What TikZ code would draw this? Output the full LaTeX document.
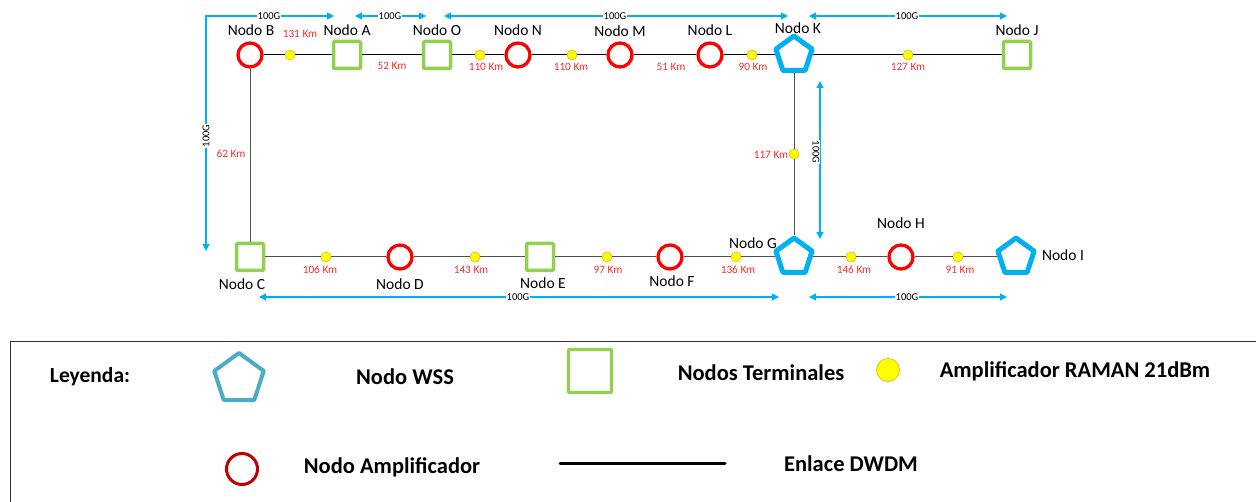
\documentclass[tikz,border=0pt]{standalone}
\usepackage{fontspec}
\setmainfont{Carlito}
\usetikzlibrary{shapes.geometric,arrows.meta}
\definecolor{cblue}{HTML}{00B0F0}
\definecolor{cgreen}{HTML}{92D050}
\definecolor{cred}{HTML}{FF0000}
\definecolor{ckm}{HTML}{FF2A2A}
\definecolor{cyel}{HTML}{FFFF00}
\definecolor{cyelb}{HTML}{EBB800}
\definecolor{lblue}{HTML}{4BACC6}
\definecolor{dred}{HTML}{C00000}
\definecolor{cline}{HTML}{505050}
\tikzset{
  wss/.style={regular polygon, regular polygon sides=5, draw=cblue, line width=5pt, minimum size=38pt, inner sep=0pt, fill=white, line join=round},
  term/.style={rectangle, draw=cgreen, line width=3.5pt, minimum size=27pt, inner sep=0pt, fill=white, rounded corners=1pt},
  ampnode/.style={circle, draw=cred, line width=3.3pt, minimum size=24pt, inner sep=0pt, fill=white},
  raman/.style={circle, draw=cyelb, line width=0.6pt, fill=cyel, minimum size=10pt, inner sep=0pt},
  nlabel/.style={font=\fontsize{15.5}{18}\selectfont, inner sep=0pt},
  km/.style={font=\fontsize{11.3}{13}\selectfont, text=ckm, inner sep=0pt},
  gl/.style={font=\fontsize{10.5}{12}\selectfont, fill=white, inner sep=0.5pt},
  linktop/.style={black, line width=1pt},
  link/.style={cline, line width=1pt},
  cap100/.style={cblue, line width=1.3pt, {Triangle[length=7pt,width=7pt]}-{Triangle[length=7pt,width=7pt]}},
  legtxt/.style={font=\fontsize{22.5}{26}\selectfont\bfseries, inner sep=0pt},
}
\begin{document}
\begin{tikzpicture}[x=1pt,y=-1pt]
\useasboundingbox (0,0) rectangle (1256,502);
% top row nodes
\node[ampnode] (B) at (250,55) {};
\node[raman] (r1) at (290,55) {};
\node[term] (A) at (347,55) {};
\node[term] (O) at (437,55) {};
\node[raman] (r2) at (480,55) {};
\node[ampnode] (N) at (518,55) {};
\node[raman] (r3) at (572,55) {};
\node[ampnode] (M) at (620,55) {};
\node[ampnode] (L) at (710,55) {};
\node[raman] (r4) at (752,55) {};
\node[wss] (K) at (794,55) {};
\node[raman] (r5) at (908,55) {};
\node[term] (J) at (1017,55) {};
% vertical
\node[term] (C) at (250,257) {};
\node[raman] (r6) at (794,154) {};
% bottom row
\node[raman] (r7) at (326,257) {};
\node[ampnode] (D) at (400,257) {};
\node[raman] (r8) at (475,257) {};
\node[term] (E) at (540,257) {};
\node[raman] (r9) at (607,257) {};
\node[ampnode] (F) at (670,257) {};
\node[raman] (r10) at (736,257) {};
\node[wss] (G) at (794,257) {};
\node[raman] (r11) at (851,257) {};
\node[ampnode] (H) at (901,257) {};
\node[raman] (r12) at (958,257) {};
\node[wss] (I) at (1016,257) {};
% links
\draw[linktop] (B) -- (r1) -- (A) -- (O) -- (r2) -- (N) -- (r3) -- (M) -- (L) -- (r4) -- (K) -- (r5) -- (J);
\draw[link] (B) -- (C);
\draw[link] (K) -- (r6) -- (G);
\draw[link] (C) -- (r7) -- (D) -- (r8) -- (E) -- (r9) -- (F) -- (r10) -- (G) -- (r11) -- (H) -- (r12) -- (I);
% node labels
\node[nlabel] (lB) at (251,30) {Nodo B};
\node[nlabel] (lA) at (347,30) {Nodo A};
\node[nlabel] (lO) at (437,30) {Nodo O};
\node[nlabel] (lN) at (518,30) {Nodo N};
\node[nlabel] (lM) at (620,31) {Nodo M};
\node[nlabel] (lL) at (710,30) {Nodo L};
\node[nlabel] (lK) at (798,28) {Nodo K};
\node[nlabel] (lJ) at (1017,30) {Nodo J};
\node[nlabel] (lC) at (242,284) {Nodo C};
\node[nlabel] (lD) at (400,284) {Nodo D};
\node[nlabel] (lE) at (543,283) {Nodo E};
\node[nlabel] (lF) at (672,281) {Nodo F};
\node[nlabel] (lG) at (753,243) {Nodo G};
\node[nlabel] (lH) at (901,223) {Nodo H};
\node[nlabel] (lI) at (1063,255) {Nodo I};
% km labels
\node[km] (k1) at (300,34) {131 Km};
\node[km] (k2) at (392,66) {52 Km};
\node[km] (k3) at (486,67) {110 Km};
\node[km] (k4) at (571,67) {110 Km};
\node[km] (k5) at (671,67) {51 Km};
\node[km] (k6) at (753,67) {90 Km};
\node[km] (k7) at (908,67) {127 Km};
\node[km] (k8) at (231,154) {62 Km};
\node[km] (k9) at (771,155) {117 Km};
\node[km] (k10) at (320,270) {106 Km};
\node[km] (k11) at (471,270) {143 Km};
\node[km] (k12) at (608,270) {97 Km};
\node[km] (k13) at (738,270) {136 Km};
\node[km] (k14) at (854,270) {146 Km};
\node[km] (k15) at (960,270) {91 Km};
% capacity arrows
\coordinate (c1a) at (206,251);
\coordinate (c1b) at (206,16);
\coordinate (c1c) at (334,16);
\draw[cap100] (c1a) -- (c1b) -- (c1c);
\node[gl] (g1) at (269,16) {100G};
\node[gl, rotate=90] (g2) at (206,136) {100G};
\coordinate (c2a) at (355,16);
\coordinate (c2b) at (426,16);
\draw[cap100] (c2a) -- (c2b);
\node[gl] (g3) at (390,16) {100G};
\coordinate (c3a) at (444,16);
\coordinate (c3b) at (788,16);
\draw[cap100] (c3a) -- (c3b);
\node[gl] (g4) at (615,16) {100G};
\coordinate (c4a) at (809,16);
\coordinate (c4b) at (1007,16);
\draw[cap100] (c4a) -- (c4b);
\node[gl] (g5) at (907,16) {100G};
\coordinate (c5a) at (820,81);
\coordinate (c5b) at (820,239);
\draw[cap100] (c5a) -- (c5b);
\node[gl, rotate=-90] (g6) at (816,152) {100G};
\coordinate (c6a) at (259,297);
\coordinate (c6b) at (779,297);
\draw[cap100] (c6a) -- (c6b);
\node[gl] (g7) at (518,297) {100G};
\coordinate (c7a) at (809,297);
\coordinate (c7b) at (1007,297);
\draw[cap100] (c7a) -- (c7b);
\node[gl] (g8) at (907,297) {100G};
% legend
\draw[line width=0.9pt, draw=black!80] (10,520) -- (10,341) -- (1270,341);
\node[legtxt, font=\fontsize{21.5}{25}\selectfont\bfseries] (ley) at (90,377) {Leyenda:};
\node[regular polygon, regular polygon sides=5, draw=lblue, line width=4pt, minimum size=52pt, inner sep=0pt, line join=round] (lw) at (239,379) {};
\node[legtxt] (lwt) at (405,377) {Nodo WSS};
\node[rectangle, draw=cgreen, line width=3.2pt, minimum size=43pt, inner sep=0pt, rounded corners=1pt] (lt) at (590,371) {};
\node[legtxt] (ltt) at (761,373) {Nodos Terminales};
\node[circle, draw=cyelb, line width=0.7pt, fill=cyel, minimum size=23pt, inner sep=0pt] (lr) at (888,370) {};
\node[legtxt] (lrt) at (1075,371) {Amplificador RAMAN 21dBm};
\node[circle, draw=dred, line width=3pt, minimum size=31pt, inner sep=0pt] (la) at (242,469) {};
\node[legtxt] (lat) at (392,467) {Nodo Amplificador};
\coordinate (le1) at (560,463);
\coordinate (le2) at (725,463);
\draw[line width=3pt, line cap=round] (le1) -- (le2);
\node[legtxt] (let) at (851,464) {Enlace DWDM};
\end{tikzpicture}
\end{document}
